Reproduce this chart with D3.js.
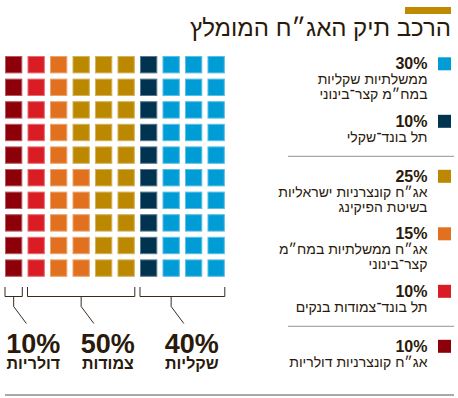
<!DOCTYPE html>
<html>
<head>
<meta charset="utf-8">
<script src="https://cdnjs.cloudflare.com/ajax/libs/d3/7.8.5/d3.min.js"></script>
<style>
  body { margin: 0; background: #fff; }
  svg { display: block; font-family: "Liberation Sans", "DejaVu Sans", sans-serif; }
</style>
</head>
<body>
<div id="chart"></div>
<script>
// categories in waffle order (left column first, each column filled bottom-up)
var categories = ["אג״ח קונצרניות דולריות", "תל בונד־צמודות בנקים", "אג״ח ממשלתיות במח״מ קצר־בינוני",
    "אג״ח קונצרניות ישראליות בשיטת הפיקינג", "תל בונד־שקלי", "ממשלתיות שקליות במח״מ קצר־בינוני"];
var shares = [10, 10, 15, 25, 10, 30];
var colors = ["#8e0009", "#da1c24", "#e2711f", "#bb8800", "#00334f", "#009cd6"];

// legend order (top to bottom) and line breaks
var legendOrder = [5, 4, 3, 2, 1, 0];
var legendLines = [
    ["אג״ח קונצרניות דולריות"],
    ["תל בונד־צמודות בנקים"],
    ["אג״ח ממשלתיות במח״מ", "קצר־בינוני"],
    ["אג״ח קונצרניות ישראליות", "בשיטת הפיקינג"],
    ["תל בונד־שקלי"],
    ["ממשלתיות שקליות", "במח״מ קצר־בינוני"]
];

// linkage groups under the waffle
var groupNames = ["דולריות", "צמודות", "שקליות"];
var groupMembers = [[0], [1, 2, 3], [4, 5]];

var title = "הרכב תיק האג״ח המומלץ";

var width = 458, height = 398;
var ink = "#2a1a0c";

var svg = d3.select("#chart").append("svg")
    .attr("width", width)
    .attr("height", height);

// title
svg.append("rect")
    .attr("x", 405).attr("y", 7)
    .attr("width", 46).attr("height", 7)
    .attr("fill", "#c08a00");
svg.append("text")
    .attr("x", 451).attr("y", 36)
    .attr("text-anchor", "end")
    .attr("font-size", 24)
    .attr("fill", ink)
    .text(title);

// waffle cells
var cells = [];
var k = 0;
shares.forEach(function(s, c) {
    for (var i = 0; i < s; i++) {
        cells.push({cat: c, col: Math.floor(k / 10), row: 9 - (k % 10)});
        k++;
    }
});

var xScale = d3.scaleBand().domain(d3.range(10)).range([5, 224.8]).paddingInner(0.23);
var yScale = d3.scaleBand().domain(d3.range(10)).range([56, 276.8]).paddingInner(0.23);

svg.append("g").selectAll("rect")
    .data(cells)
    .enter().append("rect")
    .attr("x", d => xScale(d.col) + 0.5)
    .attr("y", d => yScale(d.row) + 0.5)
    .attr("width", xScale.bandwidth() - 1)
    .attr("height", yScale.bandwidth() - 1)
    .attr("fill", d => colors[d.cat])
    .attr("stroke", d => d3.interpolateRgb(colors[d.cat], "#fff")(0.35))
    .attr("stroke-width", 1);

// brackets: stems sit on column centres 0, 3 and 7
var stemCols = [0, 3, 7];
var labelShift = [7, 14, 8];
var groupData = groupMembers.map(function(m, i) {
    var members = cells.filter(c => m.indexOf(c.cat) >= 0);
    var c0 = d3.min(members, c => c.col), c1 = d3.max(members, c => c.col);
    var stem = xScale(stemCols[i]) + xScale.bandwidth() / 2;
    return {
        name: groupNames[i],
        pct: d3.sum(m, j => shares[j]),
        x0: xScale(c0),
        x1: xScale(c1) + xScale.bandwidth(),
        stem: stem,
        labelX: stem + 12.7 + labelShift[i]
    };
});

var brackets = svg.append("g")
    .attr("fill", "none")
    .attr("stroke", "#3a2a1a")
    .attr("stroke-width", 1);

brackets.selectAll("path")
    .data(groupData)
    .enter().append("path")
    .attr("d", d => "M" + d.x0 + ",287V296.5H" + d.x1 + "V287" +
        "M" + d.stem + ",296.5V306.5L" + (d.stem + 12.7) + ",323.5");

svg.selectAll(".pct")
    .data(groupData)
    .enter().append("text")
    .attr("class", "pct")
    .attr("x", d => d.labelX)
    .attr("y", 352.5)
    .attr("text-anchor", "middle")
    .attr("font-size", 27)
    .attr("font-weight", "bold")
    .attr("fill", ink)
    .text(d => d.pct + "%");

svg.selectAll(".gname")
    .data(groupData)
    .enter().append("text")
    .attr("class", "gname")
    .attr("x", d => d.labelX)
    .attr("y", 368.5)
    .attr("text-anchor", "middle")
    .attr("font-size", 16)
    .attr("font-weight", "bold")
    .attr("fill", ink)
    .text(d => d.name);

// legend
var legend = svg.append("g");
var y = 69.3;
legendOrder.forEach(function(c, i) {
    var lines = legendLines[c];
    legend.append("rect")
        .attr("x", 438).attr("y", y - 12)
        .attr("width", 13).attr("height", 13)
        .attr("fill", colors[c]);
    legend.append("text")
        .attr("x", 427.5).attr("y", y)
        .attr("text-anchor", "end")
        .attr("font-size", 16)
        .attr("font-weight", "bold")
        .attr("fill", ink)
        .text(shares[c] + "%");
    lines.forEach(function(l, j) {
        legend.append("text")
            .attr("x", 427.5).attr("y", y + 15 * (j + 1))
            .attr("text-anchor", "end")
            .attr("font-size", 14)
            .attr("fill", ink)
            .text(l);
    });
    var last = y + 15 * lines.length;
    // separator between linkage groups
    var endsGroup = groupMembers.some(m => m[0] === c) && i < legendOrder.length - 1;
    if (endsGroup) {
        legend.append("line")
            .attr("x1", 288).attr("x2", 454)
            .attr("y1", last + 14.5).attr("y2", last + 14.5)
            .attr("stroke", "#9a938a")
            .attr("stroke-width", 1);
        y = last + 40;
    } else {
        y = last + 27.5;
    }
});

svg.append("line")
    .attr("x1", 5).attr("x2", 454)
    .attr("y1", 395).attr("y2", 395)
    .attr("stroke", "#5a5048")
    .attr("stroke-width", 1);
</script>
</body>
</html>
